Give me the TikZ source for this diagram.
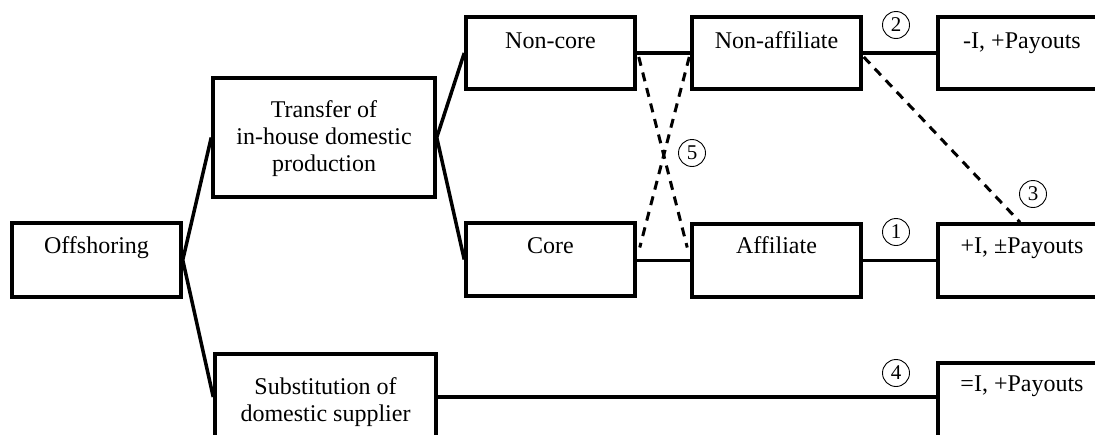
\documentclass[tikz,border=0pt]{standalone}
\usepackage{fontspec}
\setmainfont{Liberation Serif}
\usetikzlibrary{calc}
\begin{document}
\begin{tikzpicture}[x=1pt,y=-1pt,
  box/.style={draw,line width=3.5pt,inner sep=0pt,rectangle},
  lbl/.style={anchor=base,inner sep=0pt,font=\fontsize{24}{27}\selectfont},
  mlbl/.style={anchor=center,inner sep=0pt,align=center,font=\fontsize{24}{27}\selectfont},
  conn/.style={line width=3.5pt,line join=miter},
  dsh/.style={line width=3pt,dash pattern=on 9pt off 7pt},
  circ/.style={circle,draw,line width=0.9pt,minimum size=27pt,inner sep=0pt,font=\fontsize{21}{21}\selectfont}]
\useasboundingbox (0,0) rectangle (1095,434);
\clip (0,0) rectangle (1095,434);
% boxes
\node[box,minimum width=169pt,minimum height=74pt] (off) at (96.5,260) {};
\node[box,minimum width=222pt,minimum height=119pt] (trans) at (324,137.5) {};
\node[box,minimum width=169pt,minimum height=72pt] (noncore) at (550.5,53) {};
\node[box,minimum width=169pt,minimum height=73pt] (core) at (550.5,259.5) {};
\node[box,minimum width=169pt,minimum height=72pt] (nonaff) at (776.5,53) {};
\node[box,minimum width=169pt,minimum height=73pt] (aff) at (776.5,260.5) {};
\node[box,minimum width=168pt,minimum height=72pt] (r1) at (1022,53) {};
\node[box,minimum width=168pt,minimum height=73pt] (r2) at (1022,260.5) {};
\node[box,minimum width=221pt,minimum height=120pt] (sub) at (325.5,414) {};
\node[box,minimum width=168pt,minimum height=80pt] (r3) at (1022,403) {};
\coordinate (subout) at (436,397);
% texts
\node[lbl] (offt) at ($(off.north)+(0,32)$) {Offshoring};
\node[mlbl] (transt) at (324,139) {Transfer of\\in-house domestic\\production};
\node[lbl] (noncoret) at ($(noncore.north)+(0,33)$) {Non-core};
\node[lbl] (coret) at ($(core.north)+(0,32)$) {Core};
\node[lbl] (nonafft) at ($(nonaff.north)+(0,33)$) {Non-affiliate};
\node[lbl] (afft) at ($(aff.north)+(0,31)$) {Affiliate};
\node[lbl] (r1t) at ($(r1.north)+(0,33)$) {-I, +Payouts};
\node[lbl] (r2t) at ($(r2.north)+(0,31)$) {+I, ±Payouts};
\node[mlbl] (subt) at (325.5,402) {Substitution of\\domestic supplier};
\node[lbl] (r3t) at ($(r3.north)+(0,30)$) {=I, +Payouts};
% connectors
\draw[conn] (trans.west) -- (off.east) -- (subout -| sub.west);
\draw[conn] (noncore.west) -- (trans.east) -- (core.west);
\draw[conn] (noncore.east) -- (nonaff.west);
\draw[conn] (core.east |- aff.west) -- (aff.west);
\draw[conn] (nonaff.east) -- (nonaff.east -| r1.west);
\draw[conn] (aff.east) -- (aff.east -| r2.west);
\draw[conn] (subout -| sub.east) -- (subout -| r3.west);
% dashed
\draw[dsh] ($(noncore.east)+(2,4)$) -- ($(aff.west)+(-3,-13)$);
\draw[dsh] ($(nonaff.west)+(-1,4)$) -- ($(core.east)+(3,-12)$);
\draw[dsh] ($(nonaff.east)+(1,4)$) -- ($(r2.north)+(-2,0)$);
% circled numbers
\node[circ] (c2) at (896,25) {2};
\node[circ] (c1) at (896,232) {1};
\node[circ] (c4) at (896,373) {4};
\node[circ] (c3) at (1033,194) {3};
\node[circ] (c5) at (692,153) {5};
\end{tikzpicture}
\end{document}
